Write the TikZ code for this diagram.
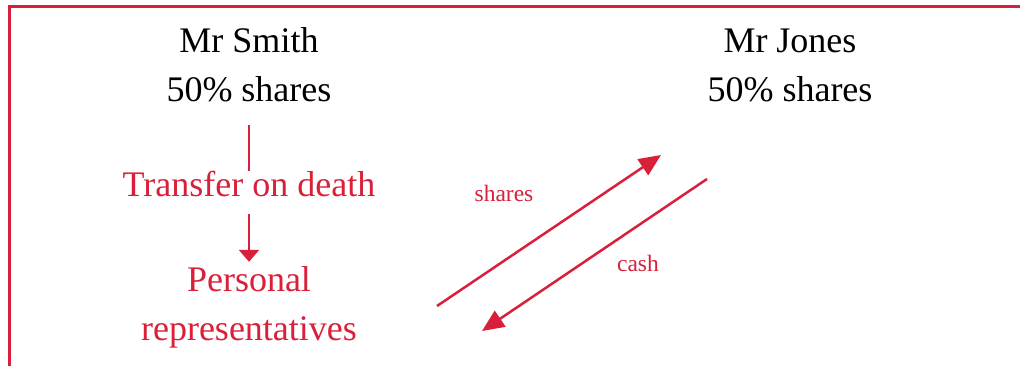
\documentclass[tikz,border=0pt]{standalone}
\usepackage{fontspec}
\setmainfont{Liberation Serif}
\usepackage{tikz}
\usetikzlibrary{arrows.meta}
\definecolor{scred}{HTML}{D9203A}

\begin{document}
\begin{tikzpicture}[
  x=1pt, y=-1pt,
  big/.style={font=\fontsize{36}{49}\selectfont, inner sep=0pt, align=center},
  small/.style={font=\fontsize{23.5}{28}\selectfont, text=scred, inner sep=0pt},
  link/.style={draw=scred, line width=2.5pt},
  downtip/.style={-{Triangle[length=12pt, width=20pt]}},
  diagtip/.style={-{Triangle[length=22pt, width=19pt]}},
]
\useasboundingbox (0,0) rectangle (1020,366);

% Cadre
\draw[scred, line width=3pt] (1020,7) -- (9,7) -- (9,366);

% Actionnaires
\node[big, anchor=base] (smith) at (249,102) {Mr Smith\\50\% shares};
\node[big, anchor=base] (jones) at (790,102) {Mr Jones\\50\% shares};

% Transmission
\node[big, anchor=base, text=scred] (transfer) at (249,197) {Transfer on death};
\node[big, anchor=base, text=scred] (reps) at (249,340) {Personal\\representatives};
\draw[link, shorten <=22pt] (smith) -- (transfer);
\draw[link, downtip, shorten <=16pt, shorten >=4pt] (transfer) -- (reps);

% Echange
\coordinate (sharesfrom) at (437,306);
\coordinate (sharesto) at (661,155);
\coordinate (cashfrom) at (707,179);
\coordinate (cashto) at (482,331);
\draw[link, diagtip] (sharesfrom) -- (sharesto);
\draw[link, diagtip] (cashfrom) -- (cashto);
\node[small, anchor=base] (sharestext) at (504,202) {shares};
\node[small, anchor=base] (cashtext) at (638,272) {cash};

\end{tikzpicture}
\end{document}
